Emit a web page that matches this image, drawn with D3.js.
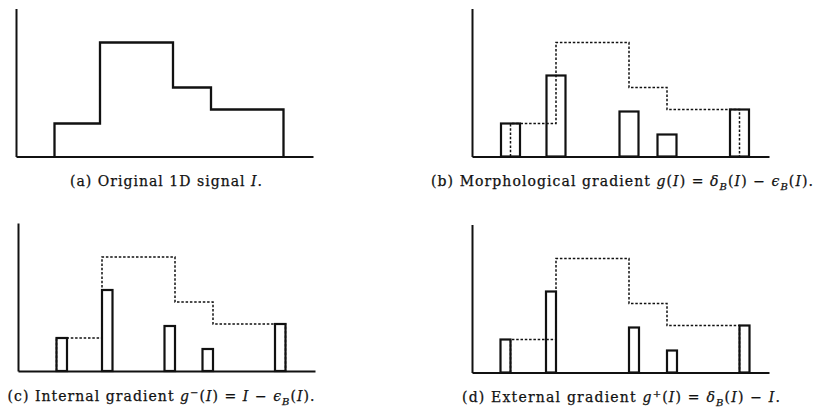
<!DOCTYPE html>
<html>
<head>
<meta charset="utf-8">
<script src="https://cdn.jsdelivr.net/npm/d3@7"></script>
<style>
  body { margin: 0; background: #fff; }
  svg { display: block; }
  .cap { font-family: "DejaVu Serif", "Liberation Serif", serif; font-size: 14px; fill: #111; stroke: #111; stroke-width: 0.25px; }
</style>
</head>
<body>
<svg id="chart" width="816" height="409"></svg>
<script>
// signal step positions (x, from the y axis) and levels between them
const stepX = [38.5, 84, 157, 195, 267.5];
const levels = [33, 114, 69, 47];
// gradient height at each step, and whether the signal goes up or down there
const gradValues = [33, 81, 45, 22, 47];
const stepDir = ['up', 'up', 'down', 'down', 'down'];
const xMax = 297;
const yMax = 148;

const panels = [
  { id: 'a', ox: 16, base: 156.5, kind: 'signal' },
  { id: 'b', ox: 472, base: 156.5, kind: 'morph' },
  { id: 'c', ox: 18, base: 371, kind: 'internal' },
  { id: 'd', ox: 472, base: 372.5, kind: 'external' }
];

const svg = d3.select('#chart');

// outline of the signal as a list of vertices
function signalPoints() {
  const pts = [[stepX[0], 0]];
  levels.forEach((v, i) => {
    pts.push([stepX[i], v]);
    pts.push([stepX[i + 1], v]);
  });
  pts.push([stepX[stepX.length - 1], 0]);
  return pts;
}

function barRange(kind, i) {
  const x = stepX[i];
  if (kind === 'morph') return [x - 9.5, x + 9.5];
  const up = stepDir[i] === 'up';
  if (kind === 'internal') return up ? [x, x + 10.5] : [x - 10.5, x];
  return up ? [x - 10, x] : [x, x + 10];
}

panels.forEach(p => {
  const xs = d3.scaleLinear().domain([0, xMax]).range([p.ox, p.ox + xMax]);
  const ys = d3.scaleLinear().domain([0, yMax]).range([p.base, p.base - yMax]);
  const g = svg.append('g');

  g.append('g')
    .attr('transform', `translate(0,${p.base})`)
    .call(d3.axisBottom(xs).ticks(0).tickSizeOuter(0));
  g.append('g')
    .attr('transform', `translate(${p.ox},0)`)
    .call(d3.axisLeft(ys).ticks(0).tickSizeOuter(0));
  g.selectAll('.domain').attr('stroke', '#111').attr('stroke-width', 2);

  const line = d3.line().x(d => xs(d[0])).y(d => ys(d[1]));

  if (p.kind === 'signal') {
    g.append('path')
      .attr('d', line(signalPoints()))
      .attr('fill', 'none')
      .attr('stroke', '#111')
      .attr('stroke-width', 2.3);
    return;
  }

  g.selectAll('rect.bar')
    .data(gradValues)
    .enter()
    .append('rect')
    .attr('class', 'bar')
    .attr('x', (d, i) => xs(barRange(p.kind, i)[0]))
    .attr('width', (d, i) => xs(barRange(p.kind, i)[1]) - xs(barRange(p.kind, i)[0]))
    .attr('y', d => ys(d))
    .attr('height', d => ys(0) - ys(d))
    .attr('fill', 'none')
    .attr('stroke', '#111')
    .attr('stroke-width', 2.2);

  g.append('path')
    .attr('d', line(signalPoints()))
    .attr('fill', 'none')
    .attr('stroke', '#111')
    .attr('stroke-width', 1.5)
    .attr('stroke-dasharray', '2.5,1.8');
});

// captions: [text, kind] pieces (0 roman, 1 italic, 2 subscript, 3 superscript)
const captions = [
  { x: 166, y: 186, w: 192, parts: [['(a) Original 1D signal ', 0], ['I', 1], ['.', 0]] },
  { x: 622, y: 186, w: 382, parts: [['(b) Morphological gradient ', 0], ['g', 1], ['(', 0], ['I', 1], [') = ', 0],
      ['δ', 1], ['B', 2], ['(', 0], ['I', 1], [') − ', 0], ['ϵ', 1], ['B', 2], ['(', 0], ['I', 1], [').', 0]] },
  { x: 161, y: 401, w: 307, parts: [['(c) Internal gradient ', 0], ['g', 1], ['−', 3], ['(', 0], ['I', 1], [') = ', 0],
      ['I', 1], [' − ', 0], ['ϵ', 1], ['B', 2], ['(', 0], ['I', 1], [').', 0]] },
  { x: 621, y: 402, w: 318, parts: [['(d) External gradient ', 0], ['g', 1], ['+', 3], ['(', 0], ['I', 1], [') = ', 0],
      ['δ', 1], ['B', 2], ['(', 0], ['I', 1], [') − ', 0], ['I', 1], ['.', 0]] }
];

captions.forEach(c => {
  const t = svg.append('text')
    .attr('class', 'cap')
    .attr('x', c.x)
    .attr('y', c.y)
    .attr('text-anchor', 'middle');
  let shift = 0;
  c.parts.forEach(([s, k]) => {
    const target = k === 2 ? 3.5 : k === 3 ? -5.5 : 0;
    const ts = t.append('tspan').text(s).attr('dy', target - shift);
    shift = target;
    if (k >= 1) ts.attr('font-style', 'italic');
    if (k >= 2) ts.attr('font-size', '10px');
  });
  t.attr('textLength', c.w).attr('lengthAdjust', 'spacing');
});
</script>
</body>
</html>
